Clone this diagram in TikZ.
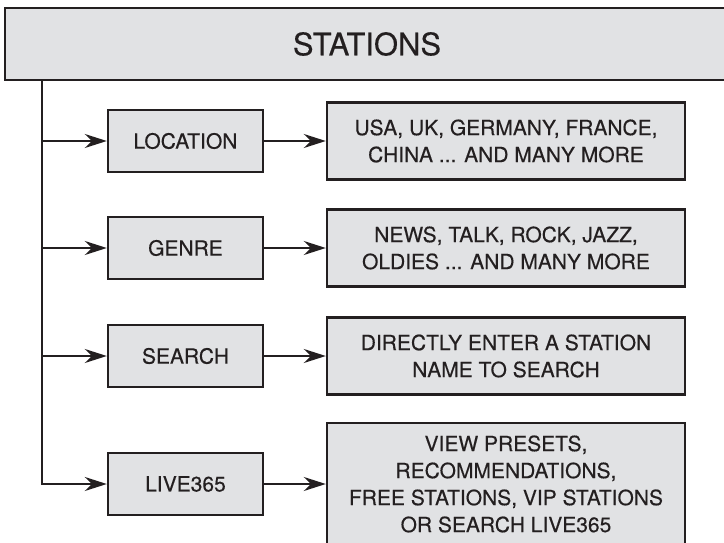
\documentclass[tikz,border=0pt]{standalone}
\usepackage{fontspec}
\setmainfont{TeX Gyre Heros}[FakeBold=0.35]
\usetikzlibrary{arrows.meta}
\definecolor{BoxClr}{RGB}{225,226,228}
\definecolor{LineClr}{RGB}{35,31,32}

\begin{document}
\begin{tikzpicture}[x=1pt,y=-1pt,
  box/.style={draw=LineClr,line width=2.4pt,fill=BoxClr,align=center,inner sep=0pt,
    text=LineClr,font=\fontsize{21}{27}\selectfont},
  menubox/.style={box,minimum width=155,minimum height=62},
  infobox/.style={box,minimum width=358,minimum height=77},
  link/.style={draw=LineClr,line width=2.2pt,-{Stealth[length=22pt,width=14pt]}}]
\useasboundingbox (0,0) rectangle (724,543);
\clip (0,0) rectangle (724,543);

\node[box,minimum width=724,minimum height=72,font=\fontsize{31}{36}\selectfont]
  (stations) at (367,44) {STATIONS};

\node[menubox] (location) at (185.5,141) {LOCATION};
\node[menubox] (genre) at (185.5,248) {GENRE};
\node[menubox] (search) at (185.5,356) {SEARCH};
\node[menubox] (live) at (185.5,484) {LIVE365};

\node[infobox] (locinfo) at (506,141) {USA, UK, GERMANY, FRANCE,\\CHINA ... AND MANY MORE};
\node[infobox] (genreinfo) at (506,248) {NEWS, TALK, ROCK, JAZZ,\\OLDIES ... AND MANY MORE};
\node[infobox] (searchinfo) at (506,356) {DIRECTLY ENTER A STATION\\NAME TO SEARCH};
\node[infobox,minimum height=122] (liveinfo) at (506,484)
  {VIEW PRESETS,\\RECOMMENDATIONS,\\FREE STATIONS, VIP STATIONS\\OR SEARCH LIVE365};

% trunk down the left side
\coordinate (trunk) at (42,80);
\draw[link] (trunk) |- (live.west);
\foreach \n in {location,genre,search}
  \draw[link] (trunk |- \n.west) -- (\n.west);

\foreach \a/\b in {location/locinfo,genre/genreinfo,search/searchinfo,live/liveinfo}
  \draw[link] (\a.east) -- (\b.west);

\end{tikzpicture}
\end{document}
